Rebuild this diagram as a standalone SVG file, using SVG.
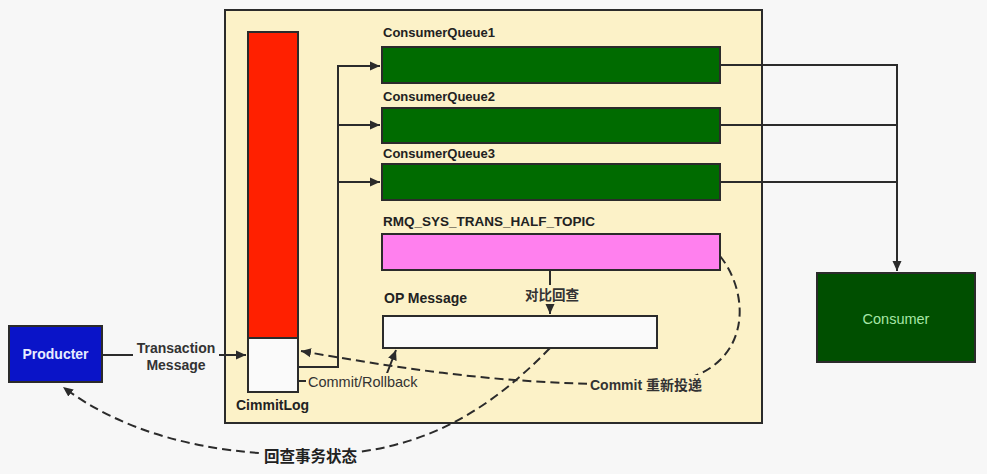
<svg xmlns="http://www.w3.org/2000/svg" width="987" height="474" viewBox="0 0 987 474">
<defs>
<style>
.ln{fill:none;stroke:#2b2b2b;stroke-width:2}
.dash{fill:none;stroke:#2b2b2b;stroke-width:2;stroke-dasharray:9 5}
.bx{stroke:#2b2b2b;stroke-width:2}
.q{fill:#006b00}
.lbl{font-family:"Liberation Sans","Noto Sans CJK SC",sans-serif;font-weight:bold;fill:#222}
.reg{font-family:"Liberation Sans","Noto Sans CJK SC",sans-serif;fill:#333}
</style>
<marker id="ah" viewBox="0 0 10 10" refX="10" refY="5" markerWidth="10" markerHeight="10" markerUnits="userSpaceOnUse" orient="auto">
<path d="M0,0.5 L10,5 L0,9.5 Z" fill="#2b2b2b"/>
</marker>
</defs>
<rect width="987" height="474" fill="#f7f7f7"/>
<g id="broker">
<rect x="225" y="10" width="537" height="413" fill="#fcf2c8" class="bx"/>
</g>
<g id="connectors">
<path class="ln" d="M298,367 H338 V66 H380" marker-end="url(#ah)"/>
<path class="ln" d="M338,125 H380" marker-end="url(#ah)"/>
<path class="ln" d="M338,182 H380" marker-end="url(#ah)"/>
<path class="ln" d="M720,65 H897 V271" marker-end="url(#ah)"/>
<path class="ln" d="M720,125 H897"/>
<path class="ln" d="M720,182 H897"/>
<path class="ln" d="M102,355 H246" marker-end="url(#ah)"/>
<path class="ln" d="M550,270 V314" marker-end="url(#ah)"/>
<path class="ln" d="M298,381 H384 L396,350" marker-end="url(#ah)"/>
<path class="dash" d="M720,256 C755,300 750,382 650,384 C520,386 420,372 301,351" marker-end="url(#ah)"/>
<path class="dash" d="M550,348 C480,420 410,455 310,455 C200,455 120,430 63,387" marker-end="url(#ah)"/>
</g>
<g id="commitlog">
<rect x="248" y="32" width="50" height="306" fill="#ff2000" class="bx"/>
<rect x="248" y="338" width="50" height="54" fill="#fafafa" class="bx"/>
<text x="236" y="410" class="lbl" font-size="14">CimmitLog</text>
</g>
<g id="cq1">
<text x="383" y="37" class="lbl" font-size="13">ConsumerQueue1</text>
<rect x="382" y="47" width="338" height="36" class="q bx"/>
</g>
<g id="cq2">
<text x="383" y="101" class="lbl" font-size="13">ConsumerQueue2</text>
<rect x="382" y="108" width="338" height="35" class="q bx"/>
</g>
<g id="cq3">
<text x="383" y="158" class="lbl" font-size="13">ConsumerQueue3</text>
<rect x="382" y="164" width="338" height="36" class="q bx"/>
</g>
<g id="half">
<text x="383" y="226" class="lbl" font-size="13.5">RMQ_SYS_TRANS_HALF_TOPIC</text>
<rect x="382" y="234" width="338" height="36" fill="#ff80ee" class="bx"/>
</g>
<g id="op">
<text x="384" y="303" class="lbl" font-size="14">OP Message</text>
<rect x="383" y="316" width="274" height="32" fill="#fafafa" class="bx"/>
</g>
<g id="producer">
<rect x="9" y="326" width="93" height="56" fill="#0a14c8" class="bx"/>
<text x="55.5" y="359" text-anchor="middle" class="lbl" font-size="14" style="fill:#e8ecff">Producter</text>
</g>
<g id="consumer">
<rect x="817" y="273" width="158" height="89" fill="#004f00" class="bx"/>
<text x="896" y="324" text-anchor="middle" class="reg" font-size="14.5" style="fill:#a6e6a6">Consumer</text>
</g>
<g id="labels">
<rect x="133" y="338" width="86" height="35" fill="#f7f7f7"/>
<text x="176" y="353" text-anchor="middle" class="lbl" font-size="14" style="fill:#333">Transaction</text>
<text x="176" y="370" text-anchor="middle" class="lbl" font-size="14" style="fill:#333">Message</text>
<rect x="523" y="285" width="58" height="19" fill="#fcf2c8"/>
<text x="552" y="300" text-anchor="middle" class="lbl" font-size="13.5" style="fill:#333">对比回查</text>
<rect x="306" y="373" width="116" height="18" fill="#fcf2c8"/>
<text x="308" y="387" class="reg" font-size="14.5">Commit/Rollback</text>
<rect x="587" y="375" width="118" height="19" fill="#fcf2c8"/>
<text x="590" y="390" class="lbl" font-size="14" style="fill:#333">Commit 重新投递</text>
<rect x="262" y="446" width="98" height="22" fill="#f7f7f7"/>
<text x="264" y="462" class="lbl" font-size="15.5" style="fill:#222">回查事务状态</text>
</g>
</svg>
